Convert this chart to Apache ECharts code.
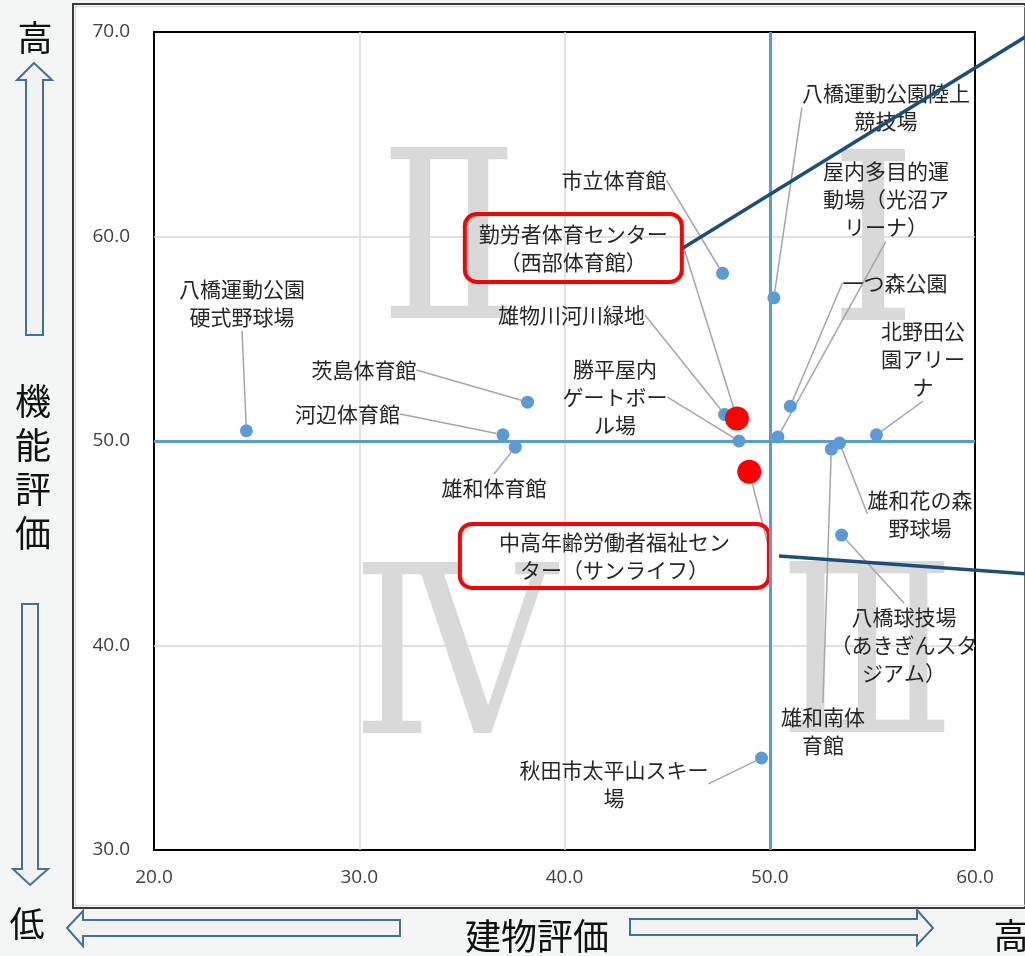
<!DOCTYPE html>
<html><head><meta charset="utf-8">
<script src="https://cdn.jsdelivr.net/npm/echarts/dist/echarts.min.js"></script>
<style>html,body{margin:0;padding:0;background:#f4f6f6}#c{width:1025px;height:956px}</style>
</head><body><div id="c"></div>
<script>
// ---- data ----
const facilityNames = [
  '八橋運動公園\n硬式野球場',
  '茨島体育館',
  '河辺体育館',
  '雄和体育館',
  '市立体育館',
  '雄物川河川緑地',
  '勝平屋内\nゲートボー\nル場',
  '八橋運動公園陸上\n競技場',
  '屋内多目的運\n動場（光沼ア\nリーナ）',
  '一つ森公園',
  '北野田公\n園アリー\nナ',
  '雄和花の森\n野球場',
  '八橋球技場\n（あきぎんスタ\nジアム）',
  '雄和南体\n育館',
  '秋田市太平山スキー\n場'
];
const buildingScore = [24.5, 38.2, 37.0, 37.6, 47.7, 47.8, 48.5, 50.2, 50.4, 51.0, 55.2, 53.4, 53.5, 53.0, 49.6];
const functionScore = [50.5, 51.9, 50.3, 49.7, 58.2, 51.3, 50.0, 57.0, 50.2, 51.7, 50.3, 49.9, 45.4, 49.6, 34.5];

const highlightNames = ['勤労者体育センター\n（西部体育館）', '中高年齢労働者福祉セン\nター（サンライフ）'];
const highlightBuilding = [48.4, 49.0];
const highlightFunction = [51.1, 48.5];

// label anchor positions (data units)
const labelAnchorX = [24.29, 30.23, 29.43, 36.57, 42.41, 40.34, 42.46, 55.66, 55.66, 56.10, 57.47, 57.32, 56.54, 52.59, 42.41];
const labelAnchorY = [56.75, 53.47, 51.32, 47.70, 62.76, 56.16, 52.15, 66.31, 61.81, 57.73, 54.01, 46.43, 40.02, 35.82, 33.23];
const highlightAnchorX = [40.43, 42.43];
const highlightAnchorY = [59.44, 44.38];
const highlightPadding = [[6, 14], [4, 39]];

const xMin = 20, xMax = 60, yMin = 30, yMax = 70, tickStep = 10;
const centerX = 50, centerY = 50;
const xAxisTitle = '建物評価';
const yAxisTitle = '機能評価';
const quadrantNumerals = ['Ⅰ', 'Ⅱ', 'Ⅲ', 'Ⅳ'];

// ---- chart ----
const chart = echarts.init(document.getElementById('c'));
const FONT = '"Noto Sans CJK JP", "Noto Sans", sans-serif';

function anchorLayout(ax, ay) {
  return function (params) {
    const i = params.dataIndex;
    const p = chart.convertToPixel({ gridIndex: 0 }, [ax[i], ay[i]]);
    return { x: p[0], y: p[1], align: 'center', verticalAlign: 'middle' };
  };
}

const blueData = facilityNames.map((n, i) => ({ name: n, value: [buildingScore[i], functionScore[i]] }));
const redData = highlightNames.map((n, i) => ({
  name: n, value: [highlightBuilding[i], highlightFunction[i]],
  label: { padding: highlightPadding[i] }
}));

const arrowStyle = { fill: '#f2f2f2', stroke: '#41719c', lineWidth: 2 };
function roman(text, x, y, sx) {
  return { type: 'text', z: -20, x: x, y: y, scaleX: sx,
    style: { text: text, x: 0, y: 0, fill: '#d9d9d9', font: 'normal 235px "DejaVu Serif", "Liberation Serif", serif', align: 'center', verticalAlign: 'middle' } };
}
const tickFont = { color: '#404040', fontSize: 19, fontFamily: '"Open Sans", sans-serif' };

chart.setOption({
  backgroundColor: '#f4f6f6',
  animation: false,
  grid: { left: 154, right: 50, top: 32, bottom: 106, show: true, borderColor: '#000', borderWidth: 2, backgroundColor: 'transparent' },
  xAxis: {
    type: 'value', min: xMin, max: xMax, interval: tickStep,
    axisLine: { show: false }, axisTick: { show: false },
    splitLine: { show: true, showMinLine: false, showMaxLine: false, lineStyle: { color: '#d9d9d9', width: 1.5 } },
    axisLabel: Object.assign({ formatter: v => v.toFixed(1), margin: 18 }, tickFont)
  },
  yAxis: {
    type: 'value', min: yMin, max: yMax, interval: tickStep,
    axisLine: { show: false }, axisTick: { show: false },
    splitLine: { show: true, showMinLine: false, showMaxLine: false, lineStyle: { color: '#d9d9d9', width: 1.5 } },
    axisLabel: Object.assign({ formatter: v => v.toFixed(1), margin: 24 }, tickFont)
  },
  graphic: [
    { type: 'rect', z: -30, shape: { x: 73, y: 4, width: 952, height: 904 }, style: { fill: '#ffffff', stroke: '#3a3a3a', lineWidth: 2 } },
    { type: 'rect', z: -29, shape: { x: 75.5, y: 6.5, width: 950, height: 899 }, style: { fill: 'none', stroke: '#dcdcdc', lineWidth: 1.5 } },
    // roman numerals (quadrants)
    roman(quadrantNumerals[1], 449, 257, 0.87),
    roman(quadrantNumerals[0], 873, 259, 0.95),
    roman(quadrantNumerals[3], 454, 672, 0.87),
    roman(quadrantNumerals[2], 867, 671, 0.77),
    // arrows
    { type: 'polygon', shape: { points: [[34, 63], [52, 80], [43, 80], [43, 335], [26, 335], [26, 80], [17, 80]] }, style: arrowStyle },
    { type: 'polygon', shape: { points: [[22, 604], [38, 604], [38, 869], [48, 869], [30, 885], [13, 869], [22, 869]] }, style: arrowStyle },
    { type: 'polygon', shape: { points: [[67, 928], [83, 911], [83, 920], [400, 920], [400, 936], [83, 936], [83, 946]] }, style: arrowStyle },
    { type: 'polygon', shape: { points: [[630, 919], [917, 919], [917, 910], [933, 928], [917, 945], [917, 935], [630, 935]] }, style: arrowStyle },
    // outer titles
    { type: 'text', style: { text: '高', x: 35, y: 38, font: '35px ' + FONT, fill: '#111', align: 'center', verticalAlign: 'middle' } },
    { type: 'text', style: { text: yAxisTitle.split('').join('\n'), x: 33, y: 467, font: '36px ' + FONT, lineHeight: 44, fill: '#111', align: 'center', verticalAlign: 'middle' } },
    { type: 'text', style: { text: '低', x: 27, y: 924, font: '35px ' + FONT, fill: '#111', align: 'center', verticalAlign: 'middle' } },
    { type: 'text', style: { text: xAxisTitle, x: 537, y: 936, font: '36px ' + FONT, fill: '#111', align: 'center', verticalAlign: 'middle' } },
    { type: 'text', style: { text: '高', x: 1011, y: 936, font: '35px ' + FONT, fill: '#111', align: 'center', verticalAlign: 'middle' } },
    // callout lines
    { type: 'line', z: 100, shape: { x1: 683, y1: 248, x2: 1030, y2: 34 }, style: { stroke: '#1f4e79', lineWidth: 3.5 } },
    { type: 'line', z: 100, shape: { x1: 779, y1: 556, x2: 1030, y2: 574 }, style: { stroke: '#1f4e79', lineWidth: 3.5 } }
  ],
  series: [
    {
      type: 'scatter', name: 'facilities', data: blueData, symbolSize: 13,
      itemStyle: { color: '#5b9bd5', opacity: 1 },
      label: { show: true, formatter: '{b}', color: '#262626', fontSize: 21, lineHeight: 28, fontFamily: FONT },
      labelLine: { show: true, lineStyle: { color: '#a6a6a6', width: 1.5 } },
      labelLayout: anchorLayout(labelAnchorX, labelAnchorY),
      markLine: {
        silent: true, symbol: 'none', label: { show: false },
        lineStyle: { color: '#5b9bd5', width: 3, type: 'solid' },
        data: [{ xAxis: centerX }, { yAxis: centerY }]
      },
      z: 3
    },
    {
      type: 'scatter', name: 'highlight', data: redData, symbolSize: 24,
      itemStyle: { color: '#ff0000', opacity: 1 },
      label: { show: true, formatter: '{b}', color: '#262626', fontSize: 21, lineHeight: 28, fontFamily: FONT,
        borderColor: '#ff0000', borderWidth: 4, borderRadius: 12 },
      labelLine: { show: true, lineStyle: { color: '#a6a6a6', width: 1.5 } },
      labelLayout: anchorLayout(highlightAnchorX, highlightAnchorY),
      z: 4
    }
  ]
});
</script>
</body></html>
